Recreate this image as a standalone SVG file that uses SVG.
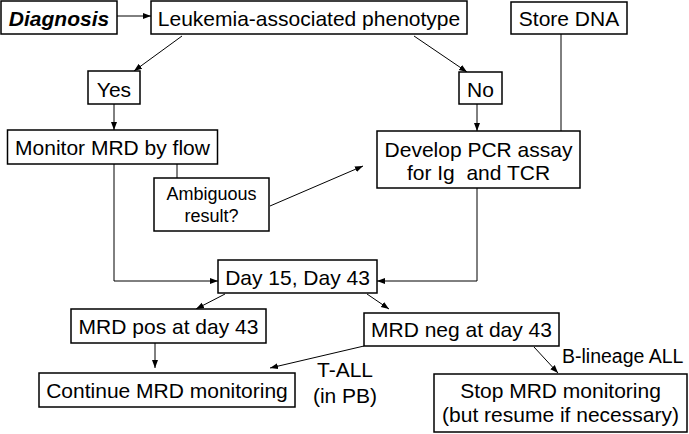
<svg xmlns="http://www.w3.org/2000/svg" width="689" height="434" viewBox="0 0 689 434">
<defs>
<style>
.box{fill:#fff;stroke:#000;stroke-width:1.5}
.t{font-family:"Liberation Sans",Arial,sans-serif;font-size:21px;fill:#000;text-anchor:middle}
.s{font-size:18px}
.c{fill:none;stroke:#000;stroke-width:1}
</style>
<marker id="ah" markerUnits="userSpaceOnUse" markerWidth="8" markerHeight="8" viewBox="0 0 8 8" refX="8" refY="4" orient="auto">
<path d="M0,1 L8,4 L0,7 Z" fill="#000"/>
</marker>
</defs>
<rect width="689" height="434" fill="#fff"/>
<g id="connectors">
<path class="c" d="M117,16 L151,16" marker-end="url(#ah)"/>
<path class="c" d="M182,36 L134,71" marker-end="url(#ah)"/>
<path class="c" d="M414,36 L467,72" marker-end="url(#ah)"/>
<path class="c" d="M114,104 L114,130" marker-end="url(#ah)"/>
<path class="c" d="M477,104 L477,131" marker-end="url(#ah)"/>
<path class="c" d="M561,34 L561,131"/>
<path class="c" d="M177,164 L177,178"/>
<path class="c" d="M270,206 L363,166" marker-end="url(#ah)"/>
<path class="c" d="M114,164 L114,281 L218,281" marker-end="url(#ah)"/>
<path class="c" d="M477,188 L477,281 L377,281" marker-end="url(#ah)"/>
<path class="c" d="M225,294 L196,309" marker-end="url(#ah)"/>
<path class="c" d="M367,294 L389,309" marker-end="url(#ah)"/>
<path class="c" d="M155,343 L155,368" marker-end="url(#ah)"/>
<path class="c" d="M364,346 L270,368" marker-end="url(#ah)"/>
<path class="c" d="M534,347 L558,373" marker-end="url(#ah)"/>
</g>
<g id="diagnosis"><rect class="box" x="1" y="1" width="116" height="33"/><text class="t" x="59" y="26" font-weight="bold" font-style="italic">Diagnosis</text></g>
<g id="phenotype"><rect class="box" x="151" y="1" width="316" height="33"/><text class="t" x="309" y="26">Leukemia-associated phenotype</text></g>
<g id="storedna"><rect class="box" x="511" y="2" width="116" height="32"/><text class="t" x="569" y="26">Store DNA</text></g>
<g id="yes"><rect class="box" x="88" y="71" width="52" height="33"/><text class="t" x="114" y="97">Yes</text></g>
<g id="no"><rect class="box" x="459" y="72" width="43" height="32"/><text class="t" x="480.5" y="97">No</text></g>
<g id="monitor"><rect class="box" x="7.5" y="130" width="210" height="34"/><text class="t" x="112.5" y="155">Monitor MRD by flow</text></g>
<g id="pcr"><rect class="box" x="377" y="131" width="203" height="57"/><text class="t" x="478.5" y="157">Develop PCR assay</text><text class="t" x="478.5" y="180">for Ig&#160; and TCR</text></g>
<g id="ambiguous"><rect class="box" x="154" y="178" width="115" height="53"/><text class="t s" x="211.5" y="200">Ambiguous</text><text class="t s" x="211.5" y="222">result?</text></g>
<g id="day"><rect class="box" x="218" y="260" width="159" height="33"/><text class="t" x="297.5" y="285">Day 15, Day 43</text></g>
<g id="mrdpos"><rect class="box" x="71" y="309" width="195" height="34"/><text class="t" x="168.5" y="334">MRD pos at day 43</text></g>
<g id="mrdneg"><rect class="box" x="364" y="313" width="195" height="33"/><text class="t" x="461.5" y="337">MRD neg at day 43</text></g>
<g id="continue"><rect class="box" x="39" y="373" width="256" height="34"/><text class="t" x="167" y="398">Continue MRD monitoring</text></g>
<g id="stop"><rect class="box" x="434" y="374" width="253" height="58"/><text class="t" x="560.5" y="398">Stop MRD monitoring</text><text class="t" x="560.5" y="422">(but resume if necessary)</text></g>
<g id="labels">
<text class="t" x="345" y="377">T-ALL</text>
<text class="t" x="345" y="403">(in PB)</text>
<text class="t" x="562" y="363" style="text-anchor:start;font-size:19.5px">B-lineage ALL</text>
</g>
</svg>
